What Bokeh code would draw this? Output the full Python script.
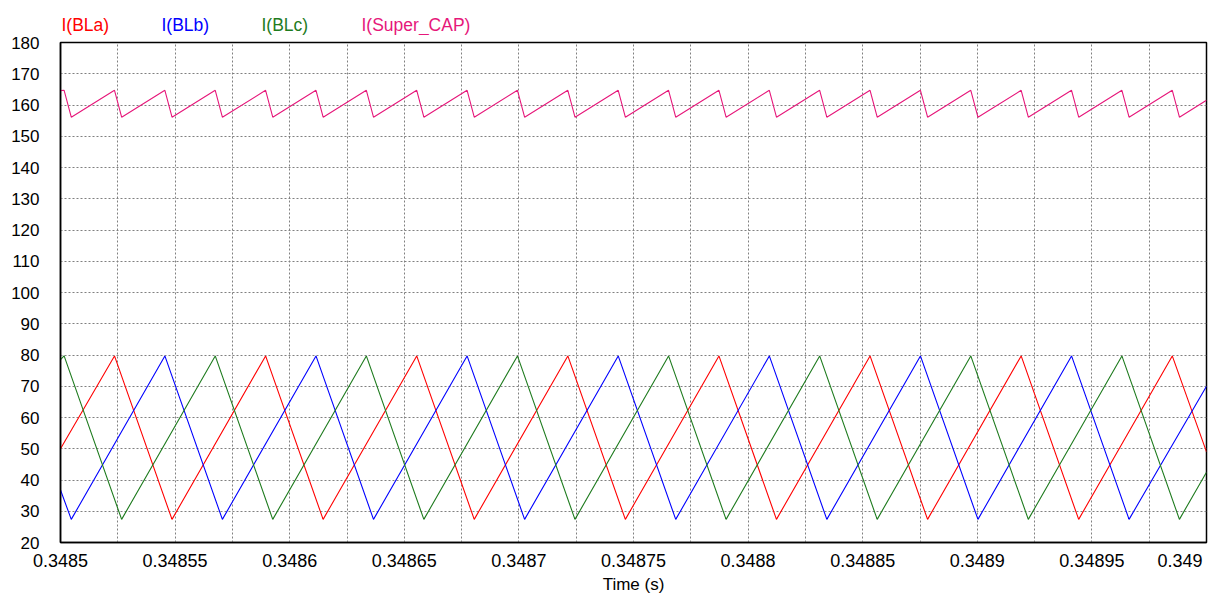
from bokeh.plotting import figure
from bokeh.models import Range1d, FixedTicker, ColumnDataSource
from bokeh.layouts import column
from bokeh.core.properties import value
from bokeh.embed import file_html
from bokeh.resources import INLINE

# ---- data (time in seconds, current in A) ----
t_bla = [0.3485, 0.34852356, 0.34854865, 0.34858949, 0.34861458, 0.34865542, 0.34868051,
         0.34872135, 0.34874644, 0.34878728, 0.34881237, 0.34885321, 0.34887830, 0.34891914,
         0.34894423, 0.34898507, 0.349]
i_bla = [50.0, 79.7, 27.4, 79.7, 27.4, 79.7, 27.4, 79.7, 27.4, 79.7, 27.4, 79.7, 27.4, 79.7,
         27.4, 79.7, 49.0]

t_blb = [0.3485, 0.34850470, 0.34854554, 0.34857063, 0.34861147, 0.34863656, 0.34867740,
         0.34870249, 0.34874333, 0.34876842, 0.34880926, 0.34883435, 0.34887519, 0.34890028,
         0.34894112, 0.34896621, 0.349]
i_blb = [36.8, 27.4, 79.7, 27.4, 79.7, 27.4, 79.7, 27.4, 79.7, 27.4, 79.7, 27.4, 79.7, 27.4,
         79.7, 27.4, 70.0]

t_blc = [0.3485, 0.34850158, 0.34852667, 0.34856751, 0.34859260, 0.34863344, 0.34865853,
         0.34869937, 0.34872446, 0.34876530, 0.34879039, 0.34883123, 0.34885632, 0.34889716,
         0.34892225, 0.34896309, 0.34898818, 0.349]
i_blc = [78.5, 79.7, 27.4, 79.7, 27.4, 79.7, 27.4, 79.7, 27.4, 79.7, 27.4, 79.7, 27.4, 79.7,
         27.4, 79.7, 27.4, 42.5]

t_cap = [0.3485, 0.34850158, 0.34850470, 0.34852356, 0.34852668, 0.34854554, 0.34854866,
         0.34856751, 0.34857063, 0.34858949, 0.34859261, 0.34861147, 0.34861459, 0.34863344,
         0.34863656, 0.34865542, 0.34865854, 0.34867740, 0.34868052, 0.34869937, 0.34870249,
         0.34872135, 0.34872447, 0.34874333, 0.34874645, 0.34876530, 0.34876842, 0.34878728,
         0.34879040, 0.34880926, 0.34881238, 0.34883123, 0.34883435, 0.34885321, 0.34885633,
         0.34887519, 0.34887831, 0.34889716, 0.34890028, 0.34891914, 0.34892226, 0.34894112,
         0.34894424, 0.34896309, 0.34896621, 0.34898507, 0.34898819, 0.349]
i_cap = [164.6, 164.7, 156.1, 164.7, 156.1, 164.7, 156.1, 164.7, 156.1, 164.7, 156.1,
         164.7, 156.1, 164.7, 156.1, 164.7, 156.1, 164.7, 156.1, 164.7, 156.1, 164.7,
         156.1, 164.7, 156.1, 164.7, 156.1, 164.7, 156.1, 164.7, 156.1, 164.7, 156.1,
         164.7, 156.1, 164.7, 156.1, 164.7, 156.1, 164.7, 156.1, 164.7, 156.1, 164.7,
         156.1, 164.7, 156.1, 161.5]

series_names = ["I(BLa)", "I(BLb)", "I(BLc)", "I(Super_CAP)"]
series_colors = ["#ff0000", "#0000ff", "#1e7b1e", "#e6177a"]

x_ticks = [0.3485, 0.34855, 0.3486, 0.34865, 0.3487, 0.34875, 0.3488, 0.34885, 0.3489,
           0.34895, 0.349]
x_tick_labels = ["0.3485", "0.34855", "0.3486", "0.34865", "0.3487", "0.34875", "0.3488",
                 "0.34885", "0.3489", "0.34895", "0.349"]
x_minor = [0.348525, 0.348575, 0.348625, 0.348675, 0.348725, 0.348775, 0.348825,
           0.348875, 0.348925, 0.348975]
y_ticks = [20, 30, 40, 50, 60, 70, 80, 90, 100, 110, 120, 130, 140, 150, 160, 170, 180]

FONT = "Liberation Sans"
GRID = "#808080"
W = 1212
FRAME_W = 1146
LEFT = 60
HEAD_H = 35

# ---- header strip holding the coloured legend texts (frame aligned with the plot frame) ----
head = figure(width=W, height=HEAD_H, output_backend="svg", toolbar_location=None,
              x_range=Range1d(0, FRAME_W), y_range=Range1d(HEAD_H, 0),
              min_border_left=LEFT, min_border_right=W - LEFT - FRAME_W,
              min_border_top=0, min_border_bottom=0,
              x_axis_type=None, y_axis_type=None)
head.outline_line_color = None
head.grid.visible = False
head.background_fill_color = "white"
head.border_fill_color = "white"
leg_src = ColumnDataSource(dict(x=[1 + 100 * k for k in range(len(series_names))],
                                y=[24.5] * len(series_names),
                                text=series_names, color=series_colors))
head.text(x="x", y="y", text="text", text_color="color", source=leg_src,
          text_font=value(FONT), text_font_size=value("17.5px"),
          text_baseline="alphabetic", text_align="left")

# ---- main plot ----
p = figure(frame_width=FRAME_W, frame_height=500, output_backend="svg", toolbar_location=None,
           x_range=Range1d(0.3485, 0.349), y_range=Range1d(20, 180),
           min_border_left=LEFT, min_border_right=W - LEFT - FRAME_W,
           min_border_top=42 - HEAD_H, min_border_bottom=58)
p.background_fill_color = "white"
p.border_fill_color = "white"
p.outline_line_color = "black"
p.outline_line_width = 1.5

p.xaxis.ticker = FixedTicker(ticks=x_ticks, minor_ticks=x_minor)
p.yaxis.ticker = FixedTicker(ticks=y_ticks)
overrides = {t: lab for t, lab in zip(x_ticks, x_tick_labels)}
# last label pushed left so it stays inside the window, as in the original
overrides[x_ticks[-1]] = x_tick_labels[-1] + "\u00a0" * 2
p.xaxis.major_label_overrides = overrides
for ax in (p.xaxis, p.yaxis):
    ax.axis_line_color = "black"
    ax.axis_line_width = 1.5
    ax.major_tick_out = 0
    ax.major_tick_in = 0
    ax.minor_tick_out = 0
    ax.minor_tick_in = 0
    ax.major_label_text_font = FONT
    ax.major_label_text_color = "black"
p.yaxis.major_label_text_font_size = "17px"
p.yaxis.major_label_standoff = 21
p.xaxis.major_label_text_font_size = "18px"
p.xaxis.major_label_standoff = 8
p.xaxis.axis_label = "Time (s)"
p.xaxis.axis_label_text_font = FONT
p.xaxis.axis_label_text_font_size = "17px"
p.xaxis.axis_label_text_font_style = "normal"
p.xaxis.axis_label_text_color = "black"
p.xaxis.axis_label_standoff = 1

p.xgrid.grid_line_color = GRID
p.xgrid.grid_line_dash = "2 2"
p.xgrid.minor_grid_line_color = GRID
p.xgrid.minor_grid_line_dash = "2 2"
p.ygrid.grid_line_color = GRID
p.ygrid.grid_line_dash = "2 2"

for tt, yy, c in [(t_bla, i_bla, series_colors[0]), (t_blb, i_blb, series_colors[1]),
                  (t_blc, i_blc, series_colors[2]), (t_cap, i_cap, series_colors[3])]:
    p.line(tt, yy, line_color=c, line_width=1.1)

layout = column(head, p, spacing=0)
open("out.html", "w").write(file_html(layout, INLINE))
